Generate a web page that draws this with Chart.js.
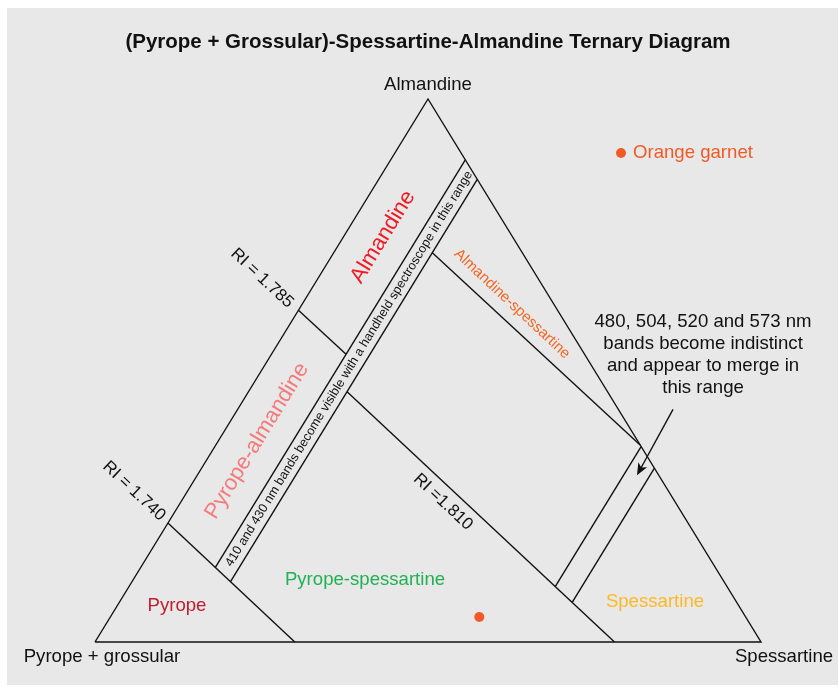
<!DOCTYPE html>
<html>
<head>
<meta charset="utf-8">
<title>Ternary diagram</title>
<script src="https://cdn.jsdelivr.net/npm/chart.js@4.4.1/dist/chart.umd.min.js"></script>
<style>
  html, body { margin:0; padding:0; background:#fff; }
  #wrap { width:839px; height:692px; }
</style>
</head>
<body>
<div id="wrap"><canvas id="chart" width="839" height="692"></canvas></div>
<script>
// compositions are [almandine, spessartine]; pyrope+grossular is the rest
const cornerNames = ['Pyrope + grossular', 'Spessartine', 'Almandine'];
const outline = [[0, 0], [1, 0], [0, 1], [0, 0]];
const ri1740 = [[0.219, 0], [0, 0.30]];
const ri1785 = [[0.611, 0], [0.530, 0.112]];
const ri1810 = [[0.461, 0.148], [0, 0.78]];
const almSpessLine = [[0.717, 0.148], [0.363, 0.637]];
const bandLeft = [[0.137, 0.112], [0.888, 0.112]];
const bandRight = [[0.111, 0.148], [0.852, 0.148]];
const mergeLeft = [[0.102, 0.64], [0.36, 0.64]];
const mergeRight = [[0.073, 0.68], [0.32, 0.68]];
const orangeGarnet = [[0.046, 0.554]];
const riLabels = ['RI = 1.740', 'RI = 1.785', 'RI =1.810'];
const bandNote = '410 and 430 nm bands become visible with a handheld spectroscope in this range';
const mergeNote = ['480, 504, 520 and 573 nm', 'bands become indistinct', 'and appear to merge in', 'this range'];

const toXY = ([a, s]) => ({ x: s + a / 2, y: a });
const FONT = '"Liberation Sans", Arial, Helvetica, sans-serif';

const line = (pts, extra) => Object.assign({
  data: pts.map(toXY), showLine: true, pointRadius: 0, borderColor: '#111',
  borderWidth: 1.4, fill: false, clip: false, tension: 0
}, extra || {});

const textPlugin = {
  id: 'texts',
  beforeDraw(chart){
    const c = chart.ctx;
    c.save(); c.fillStyle = '#e8e8e8'; c.fillRect(7, 8, 831, 677); c.restore();
  },
  afterDatasetsDraw(chart){
    const c = chart.ctx, sx = chart.scales.x, sy = chart.scales.y;
    const P = (x, y) => [sx.getPixelForValue(x), sy.getPixelForValue(y)];
    const edgeAng = Math.atan2(P(0.5, 1)[1] - P(0, 0)[1], P(0.5, 1)[0] - P(0, 0)[0]);
    const a0 = P(toXY(ri1810[0]).x, toXY(ri1810[0]).y), a1 = P(toXY(ri1810[1]).x, toXY(ri1810[1]).y);
    const riAng = Math.atan2(a1[1] - a0[1], a1[0] - a0[0]);
    const txt = (s, x, y, size, color, ang, weight) => {
      const [px, py] = P(x, y);
      c.save();
      c.translate(px, py); c.rotate(ang || 0);
      c.font = `${weight || 'normal'} ${size}px ${FONT}`;
      c.fillStyle = color; c.textAlign = 'center'; c.textBaseline = 'middle';
      c.fillText(s, 0, 0);
      c.restore();
    };
    // title + corner names
    c.save();
    c.font = `bold 20.5px ${FONT}`; c.fillStyle = '#111'; c.textAlign = 'center'; c.textBaseline = 'middle';
    c.fillText('(Pyrope + Grossular)-Spessartine-Almandine Ternary Diagram', 428, 42);
    c.font = `18.6px ${FONT}`;
    const apex = P(0.5, 1), bl = P(0, 0), br = P(1, 0);
    c.fillText(cornerNames[2], apex[0], apex[1] - 14);
    c.fillText(cornerNames[0], bl[0] + 7, bl[1] + 15);
    c.fillText(cornerNames[1], br[0] + 23, br[1] + 15);
    c.restore();

    txt('Almandine', 0.4324, 0.746, 22, '#ee1c25', edgeAng);
    txt('Pyrope-almandine', 0.2432, 0.370, 22, '#f37b7d', edgeAng);
    txt(bandNote, 0.3815, 0.503, 12.7, '#111', edgeAng);
    txt(riLabels[1], 0.2508, 0.670, 17, '#111', riAng);
    txt(riLabels[0], 0.0586, 0.278, 17, '#111', riAng);
    txt(riLabels[2], 0.5225, 0.258, 17, '#111', riAng);
    txt('Almandine-spessartine', 0.6261, 0.6225, 15, '#f26522', riAng);
    txt('Pyrope', 0.1231, 0.0663, 18.6, '#be1e2d');
    txt('Pyrope-spessartine', 0.4054, 0.114, 18.6, '#21b155');
    txt('Spessartine', 0.8408, 0.0737, 18.6, '#fdb924');
    mergeNote.forEach((s, i) => txt(s, 0.913, 0.589 - i * 22 / 543, 18.6, '#111'));

    // arrow into the merge strip
    const from = P(0.8679, 0.4285), to = P(0.8138, 0.3070);
    const ang = Math.atan2(to[1] - from[1], to[0] - from[0]);
    c.save();
    c.strokeStyle = '#111'; c.fillStyle = '#111'; c.lineWidth = 1.4;
    c.beginPath(); c.moveTo(from[0], from[1]); c.lineTo(to[0] - 8 * Math.cos(ang), to[1] - 8 * Math.sin(ang)); c.stroke();
    c.translate(to[0], to[1]); c.rotate(ang);
    c.beginPath(); c.moveTo(0, 0); c.lineTo(-12, -5); c.lineTo(-9, 0); c.lineTo(-12, 5); c.closePath(); c.fill();
    c.restore();

    // legend
    const lg = P(0.7898, 0.9006);
    c.save();
    c.fillStyle = '#f15a24';
    c.beginPath(); c.arc(lg[0], lg[1], 5, 0, Math.PI * 2); c.fill();
    c.font = `18.6px ${FONT}`; c.textBaseline = 'middle';
    c.fillText('Orange garnet', lg[0] + 12, lg[1]);
    c.restore();
  }
};

new Chart(document.getElementById('chart'), {
  type: 'scatter',
  data: {
    datasets: [
      line(outline, { fill: 'origin', backgroundColor: '#fff' }),
      line(ri1740), line(ri1785), line(ri1810), line(almSpessLine),
      line(bandLeft), line(bandRight), line(mergeLeft), line(mergeRight),
      { data: orangeGarnet.map(toXY), pointRadius: 5, pointBackgroundColor: '#f15a24', pointBorderWidth: 0, showLine: false, clip: false }
    ]
  },
  options: {
    responsive: false, devicePixelRatio: 1, animation: false,
    layout: { padding: { left: 95, right: 78, top: 99, bottom: 50 } },
    scales: {
      x: { type: 'linear', min: 0, max: 1, display: false },
      y: { type: 'linear', min: 0, max: 1, display: false }
    },
    plugins: { legend: { display: false }, tooltip: { enabled: false }, title: { display: false } }
  },
  plugins: [textPlugin]
});
</script>
</body>
</html>
